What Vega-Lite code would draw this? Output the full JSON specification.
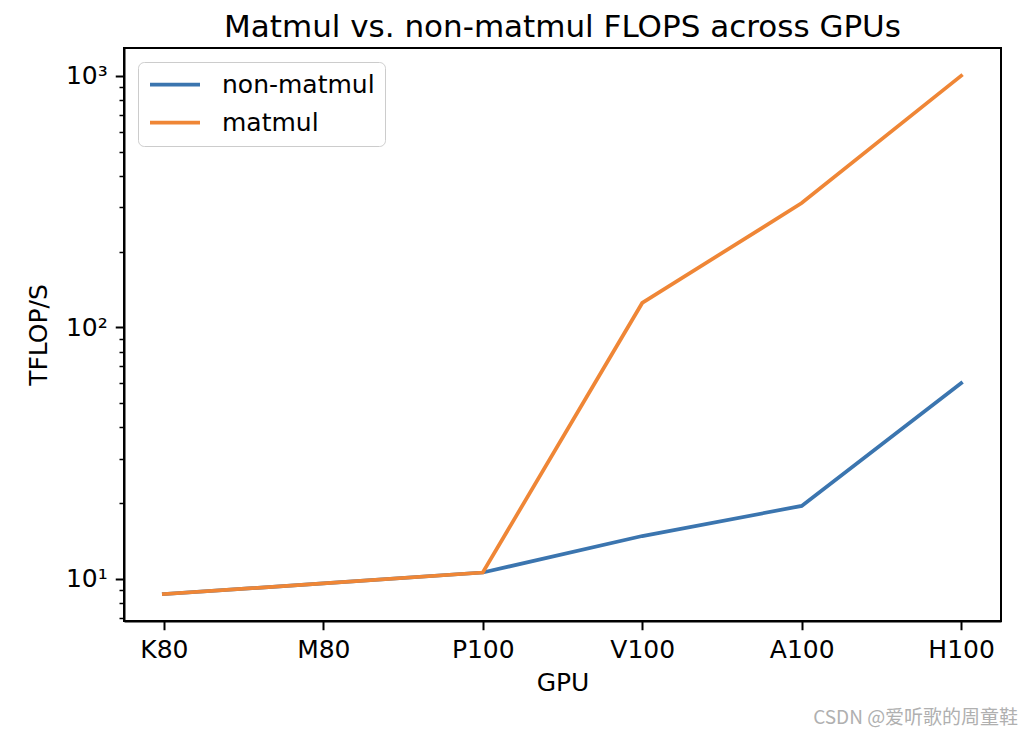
{
  "$schema": "https://vega.github.io/schema/vega-lite/v6.json",
  "autosize": {"type": "none"},
  "width": 877,
  "height": 573,
  "padding": {"left": 124, "top": 48, "right": 22, "bottom": 114},
  "background": "white",
  "config": {
    "font": "DejaVu Sans",
    "view": {"stroke": "#000", "strokeWidth": 2},
    "axis": {
      "domainColor": "#000",
      "domainWidth": 2,
      "tickColor": "#000",
      "tickWidth": 2,
      "tickSize": 8.75,
      "labelFont": "DejaVu Sans",
      "labelFontSize": 25,
      "labelColor": "#000",
      "labelPadding": 8,
      "titleFont": "DejaVu Sans",
      "titleFontSize": 25,
      "titleFontWeight": "normal",
      "titleColor": "#000",
      "grid": false
    },
    "title": {"font": "DejaVu Sans", "fontSize": 31, "fontWeight": "normal", "color": "#000"}
  },
  "title": {"text": "Matmul vs. non-matmul FLOPS across GPUs", "offset": 4},
  "data": {
    "values": [
      {"GPU": "K80", "series": "non-matmul", "tflops": 8.7},
      {"GPU": "M80", "series": "non-matmul", "tflops": 9.6},
      {"GPU": "P100", "series": "non-matmul", "tflops": 10.6},
      {"GPU": "V100", "series": "non-matmul", "tflops": 14.8},
      {"GPU": "A100", "series": "non-matmul", "tflops": 19.5},
      {"GPU": "H100", "series": "non-matmul", "tflops": 60},
      {"GPU": "K80", "series": "matmul", "tflops": 8.7},
      {"GPU": "M80", "series": "matmul", "tflops": 9.6},
      {"GPU": "P100", "series": "matmul", "tflops": 10.6},
      {"GPU": "V100", "series": "matmul", "tflops": 125},
      {"GPU": "A100", "series": "matmul", "tflops": 312},
      {"GPU": "H100", "series": "matmul", "tflops": 1000}
    ]
  },
  "layer": [
    {
      "mark": {"type": "line", "strokeWidth": 3.75, "strokeCap": "square"},
      "encoding": {
        "x": {
          "field": "GPU",
          "type": "ordinal",
          "sort": ["K80", "M80", "P100", "V100", "A100", "H100"],
          "scale": {"type": "point", "padding": 0.25},
          "axis": {"labelAngle": 0, "title": "GPU", "titlePadding": 8}
        },
        "y": {
          "field": "tflops",
          "type": "quantitative",
          "scale": {"type": "log", "domain": [6.8, 1290], "nice": false},
          "axis": {
            "title": "TFLOP/S",
            "titlePadding": 14,
            "values": [7, 8, 9, 10, 20, 30, 40, 50, 60, 70, 80, 90, 100, 200, 300, 400, 500, 600, 700, 800, 900, 1000],
            "labelExpr": "datum.value == 10 ? '10¹' : datum.value == 100 ? '10²' : datum.value == 1000 ? '10³' : ''",
            "tickSize": {"condition": {"test": "datum.value == 10 || datum.value == 100 || datum.value == 1000", "value": 8.75}, "value": 5},
            "tickWidth": {"condition": {"test": "datum.value == 10 || datum.value == 100 || datum.value == 1000", "value": 2}, "value": 1.5}
          }
        },
        "color": {
          "field": "series",
          "type": "nominal",
          "sort": ["non-matmul", "matmul"],
          "scale": {"domain": ["non-matmul", "matmul"], "range": ["#3b75af", "#ef8636"]},
          "legend": {
            "title": null,
            "orient": "top-left",
            "offset": 14,
            "padding": 10,
            "labelFont": "DejaVu Sans",
            "labelFontSize": 25,
            "labelColor": "#000",
            "labelOffset": 20,
            "symbolType": "stroke",
            "symbolSize": 2500,
            "symbolStrokeWidth": 3.75,
            "clipHeight": 25,
            "rowPadding": 12,
            "strokeColor": "#cccccc",
            "fillColor": "rgba(255,255,255,0.8)",
            "cornerRadius": 6
          }
        }
      }
    },
    {
      "data": {"values": [{"label": "CSDN @爱听歌的周童鞋"}]},
      "mark": {"type": "text", "font": "Noto Sans CJK SC", "fontSize": 19, "color": "#b0b0b0", "align": "right", "baseline": "middle", "dx": 57},
      "encoding": {
        "x": {"datum": "H100", "type": "ordinal"},
        "y": {"datum": 2.8, "type": "quantitative"},
        "text": {"field": "label"}
      }
    }
  ]
}
